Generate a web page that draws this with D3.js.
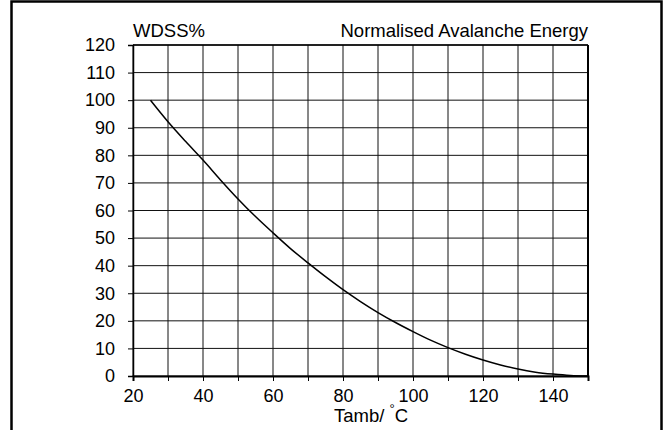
<!DOCTYPE html>
<html>
<head>
<meta charset="utf-8">
<script src="https://cdn.jsdelivr.net/npm/d3@7"></script>
<style>
  body { margin: 0; background: #fff; }
  svg text { font-family: "Liberation Sans", Arial, sans-serif; fill: #000; }
</style>
</head>
<body>
<script>
// readings, every 5 degrees
let temps = [25, 30, 35, 40, 45, 50, 55, 60, 65, 70, 75, 80, 85, 90, 95, 100, 105, 110, 115, 120, 125, 130, 135, 140, 145, 150];
let wdss = [100, 92.2, 85.1, 78.3, 71.1, 64.2, 57.8, 51.9, 46.2, 41, 36, 31.3, 27, 23, 19.4, 16.1, 13, 10.3, 7.9, 5.8, 4, 2.5, 1.4, 0.7, 0.2, 0];
let xTicks = [20, 30, 40, 50, 60, 70, 80, 90, 100, 110, 120, 130, 140, 150];
let xLabels = [20, 40, 60, 80, 100, 120, 140];
let yTicks = [0, 10, 20, 30, 40, 50, 60, 70, 80, 90, 100, 110, 120];

let width = 667, height = 430;
let fontSize = 18;
let titleSize = 18.5;

let svg = d3.select('body').append('svg')
  .attr('width', width)
  .attr('height', height);

// outer frame
svg.append('rect')
  .attr('x', 11.5).attr('y', 1.5)
  .attr('width', 650).attr('height', 432)
  .attr('fill', 'none')
  .attr('stroke', '#000')
  .attr('stroke-width', 2.5);

let x = d3.scaleLinear().domain([20, 150]).range([133, 588]);
let y = d3.scaleLinear().domain([0, 120]).range([376, 45]);

// grid
let grid = svg.append('g').attr('stroke', '#111').attr('stroke-width', 1);
grid.selectAll('line.v')
  .data(xTicks)
  .enter()
  .append('line')
  .attr('class', 'v')
  .attr('x1', d => x(d)).attr('x2', d => x(d))
  .attr('y1', y(0)).attr('y2', y(120));
grid.selectAll('line.h')
  .data(yTicks)
  .enter()
  .append('line')
  .attr('class', 'h')
  .attr('x1', x(20)).attr('x2', x(150))
  .attr('y1', d => y(d)).attr('y2', d => y(d));

// right and top border of plot
svg.append('line')
  .attr('x1', x(150)).attr('x2', x(150))
  .attr('y1', y(0)).attr('y2', y(120))
  .attr('stroke', '#000').attr('stroke-width', 2);
svg.append('line')
  .attr('x1', x(20)).attr('x2', x(150))
  .attr('y1', y(120)).attr('y2', y(120))
  .attr('stroke', '#000').attr('stroke-width', 1.5);

// y axis
let yAxis = svg.append('g')
  .attr('transform', `translate(${x(20)},0)`)
  .call(d3.axisLeft(y).tickValues(yTicks).tickSize(5).tickPadding(13).tickFormat(d3.format('d')));
yAxis.select('.domain').attr('stroke-width', 1.5);
yAxis.selectAll('text').style('font-size', fontSize + 'px');

// x axis
let xAxis = svg.append('g')
  .attr('transform', `translate(0,${y(0)})`)
  .call(d3.axisBottom(x).tickValues(xTicks).tickSize(5).tickPadding(8)
    .tickFormat(d => xLabels.includes(d) ? d : ''));
xAxis.select('.domain').attr('stroke-width', 2);
xAxis.selectAll('text').style('font-size', fontSize + 'px');

// curve
let line = d3.line()
  .x((d, i) => x(temps[i]))
  .y(d => y(d))
  .curve(d3.curveMonotoneX);

svg.append('path')
  .datum(wdss)
  .attr('d', line)
  .attr('fill', 'none')
  .attr('stroke', '#000')
  .attr('stroke-width', 1.5);

// titles
svg.append('text')
  .attr('x', x(20)).attr('y', 37)
  .style('font-size', titleSize + 'px')
  .text('WDSS%');
svg.append('text')
  .attr('x', x(150)).attr('y', 37)
  .attr('text-anchor', 'end')
  .style('font-size', titleSize + 'px')
  .text('Normalised Avalanche Energy');

let xt = svg.append('text')
  .attr('x', 334).attr('y', 422)
  .style('font-size', titleSize + 'px');
xt.append('tspan').text('Tamb/ ');
xt.append('tspan').attr('dy', -9).style('font-size', '13px').text('°');
xt.append('tspan').attr('dy', 9).text('C');
</script>
</body>
</html>
